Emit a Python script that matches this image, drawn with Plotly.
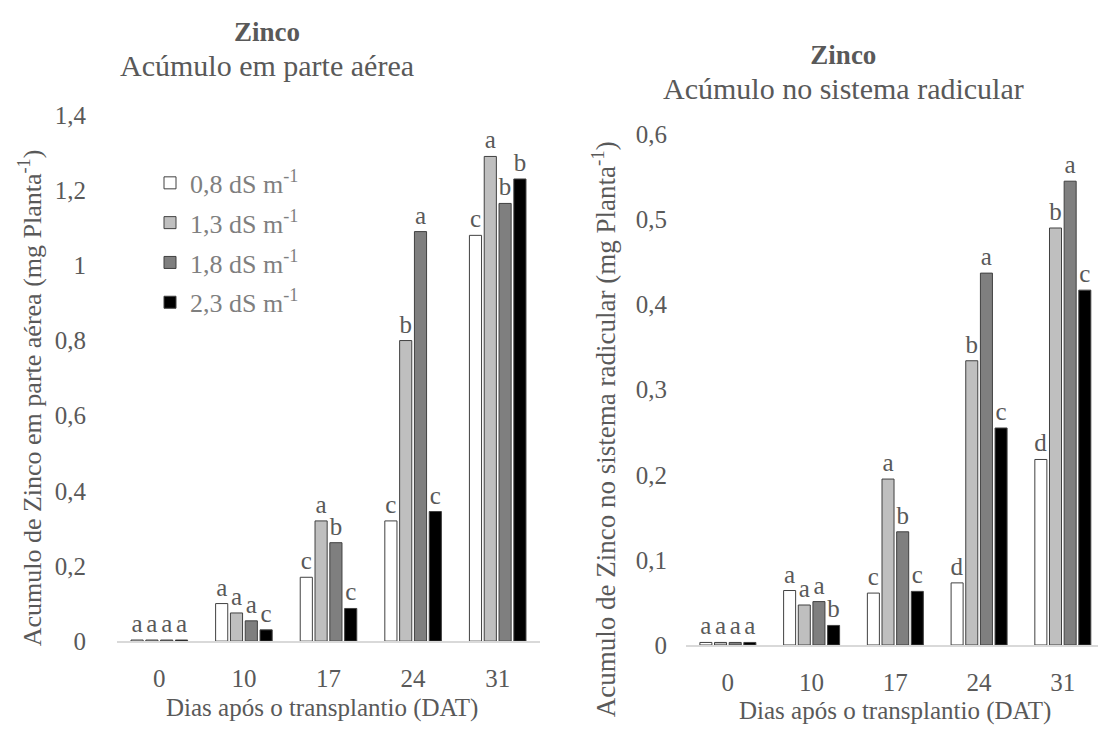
import plotly.graph_objects as go

days = ["0", "10", "17", "24", "31"]
series_names = ["0,8 dS m<sup>-1</sup>", "1,3 dS m<sup>-1</sup>", "1,8 dS m<sup>-1</sup>", "2,3 dS m<sup>-1</sup>"]
colors = ["#ffffff", "#bfbfbf", "#7f7f7f", "#000000"]

# Parte aérea (mg planta-1)
shoot_08 = [0.003, 0.100, 0.170, 0.320, 1.080]
shoot_13 = [0.003, 0.075, 0.320, 0.800, 1.290]
shoot_18 = [0.003, 0.054, 0.262, 1.090, 1.165]
shoot_23 = [0.003, 0.030, 0.087, 0.345, 1.230]
shoot_letters_08 = ["a", "a", "c", "c", "c"]
shoot_letters_13 = ["a", "a", "a", "b", "a"]
shoot_letters_18 = ["a", "a", "b", "a", "b"]
shoot_letters_23 = ["a", "c", "c", "c", "b"]

# Sistema radicular (mg planta-1)
root_08 = [0.003, 0.064, 0.061, 0.073, 0.218]
root_13 = [0.003, 0.047, 0.195, 0.334, 0.490]
root_18 = [0.003, 0.051, 0.133, 0.437, 0.545]
root_23 = [0.003, 0.023, 0.063, 0.255, 0.417]
root_letters_08 = ["a", "a", "c", "d", "d"]
root_letters_13 = ["a", "a", "a", "b", "b"]
root_letters_18 = ["a", "a", "b", "a", "a"]
root_letters_23 = ["a", "b", "c", "c", "c"]

shoot = [shoot_08, shoot_13, shoot_18, shoot_23]
shoot_letters = [shoot_letters_08, shoot_letters_13, shoot_letters_18, shoot_letters_23]
root = [root_08, root_13, root_18, root_23]
root_letters = [root_letters_08, root_letters_13, root_letters_18, root_letters_23]

FONT = "Liberation Serif, Times New Roman, DejaVu Serif, serif"
TXT = "#595959"

fig = go.Figure()
for i in range(4):
    fig.add_trace(go.Bar(
        x=days, y=shoot[i], name=series_names[i], legendgroup=f"g{i}",
        marker=dict(color=colors[i], line=dict(color="#404040", width=1)),
        text=shoot_letters[i], textposition="outside", cliponaxis=False,
        constraintext="none",
        textfont=dict(family=FONT, size=25, color=TXT),
        xaxis="x", yaxis="y", showlegend=True,
    ))
for i in range(4):
    fig.add_trace(go.Bar(
        x=days, y=root[i], name=series_names[i], legendgroup=f"g{i}",
        marker=dict(color=colors[i], line=dict(color="#404040", width=1)),
        text=root_letters[i], textposition="outside", cliponaxis=False,
        constraintext="none",
        textfont=dict(family=FONT, size=25, color=TXT),
        xaxis="x2", yaxis="y2", showlegend=False,
    ))

W, H = 1098, 738
def px_x(p):
    return p / W
def px_y(p):
    return (H - p) / H

axis_common = dict(showgrid=False, zeroline=False, ticks="",
                   tickfont=dict(family=FONT, size=25, color=TXT))

def ann(text, x, y, size, angle=0):
    return dict(text=text, x=px_x(x), y=px_y(y),
                xref="paper", yref="paper", showarrow=False,
                xanchor="center", yanchor="middle", textangle=angle,
                font=dict(family=FONT, size=size, color=TXT))

fig.update_layout(
    width=W, height=H,
    margin=dict(l=0, r=0, t=0, b=0),
    paper_bgcolor="white", plot_bgcolor="white",
    separators=",.",
    barmode="group", bargap=0.3, bargroupgap=0.18,
    font=dict(family=FONT, color=TXT),
    xaxis=dict(domain=[px_x(117), px_x(540)], anchor="y", type="category",
               range=[-0.5, 4.5], showline=True, linecolor="#d9d9d9", linewidth=1.5,
               ticklabelstandoff=14, **axis_common),
    yaxis=dict(domain=[px_y(652), px_y(106)], anchor="x", range=[0, 1.4],
               dtick=0.2, showline=False, ticklabelstandoff=30, **axis_common),
    xaxis2=dict(domain=[px_x(686), 1.0], anchor="y2", type="category",
                range=[-0.5, 4.42], showline=True, linecolor="#d9d9d9", linewidth=1.5,
                ticklabelstandoff=14, **axis_common),
    yaxis2=dict(domain=[px_y(656), px_y(126)], anchor="x2", range=[0, 0.6],
                dtick=0.1, showline=False, ticklabelstandoff=18, **axis_common),
    legend=dict(x=px_x(150), y=px_y(152), xanchor="left", yanchor="top",
                bgcolor="rgba(0,0,0,0)", traceorder="grouped", tracegroupgap=3,
                font=dict(family=FONT, size=26, color="#7f7f7f")),
    annotations=[
        ann("<b>Zinco</b><br><span style='font-size:30px'>Acúmulo em parte aérea</span>",
            267, 38, 27),
        ann("<b>Zinco</b><br><span style='font-size:30px'>Acúmulo no sistema radicular</span>",
            843, 62, 27),
        ann("Dias após o transplantio (DAT)", 322, 721, 25),
        ann("Dias após o transplantio (DAT)", 895, 724, 25),
        ann("Acumulo de Zinco em parte aérea (mg Planta<sup>-1</sup>)", 30, 400, 26, angle=-90),
        ann("Acumulo de Zinco no sistema radicular (mg Planta<sup>-1</sup>)", 604, 432, 27, angle=-90),
    ],
)

fig.write_html("out.html")
